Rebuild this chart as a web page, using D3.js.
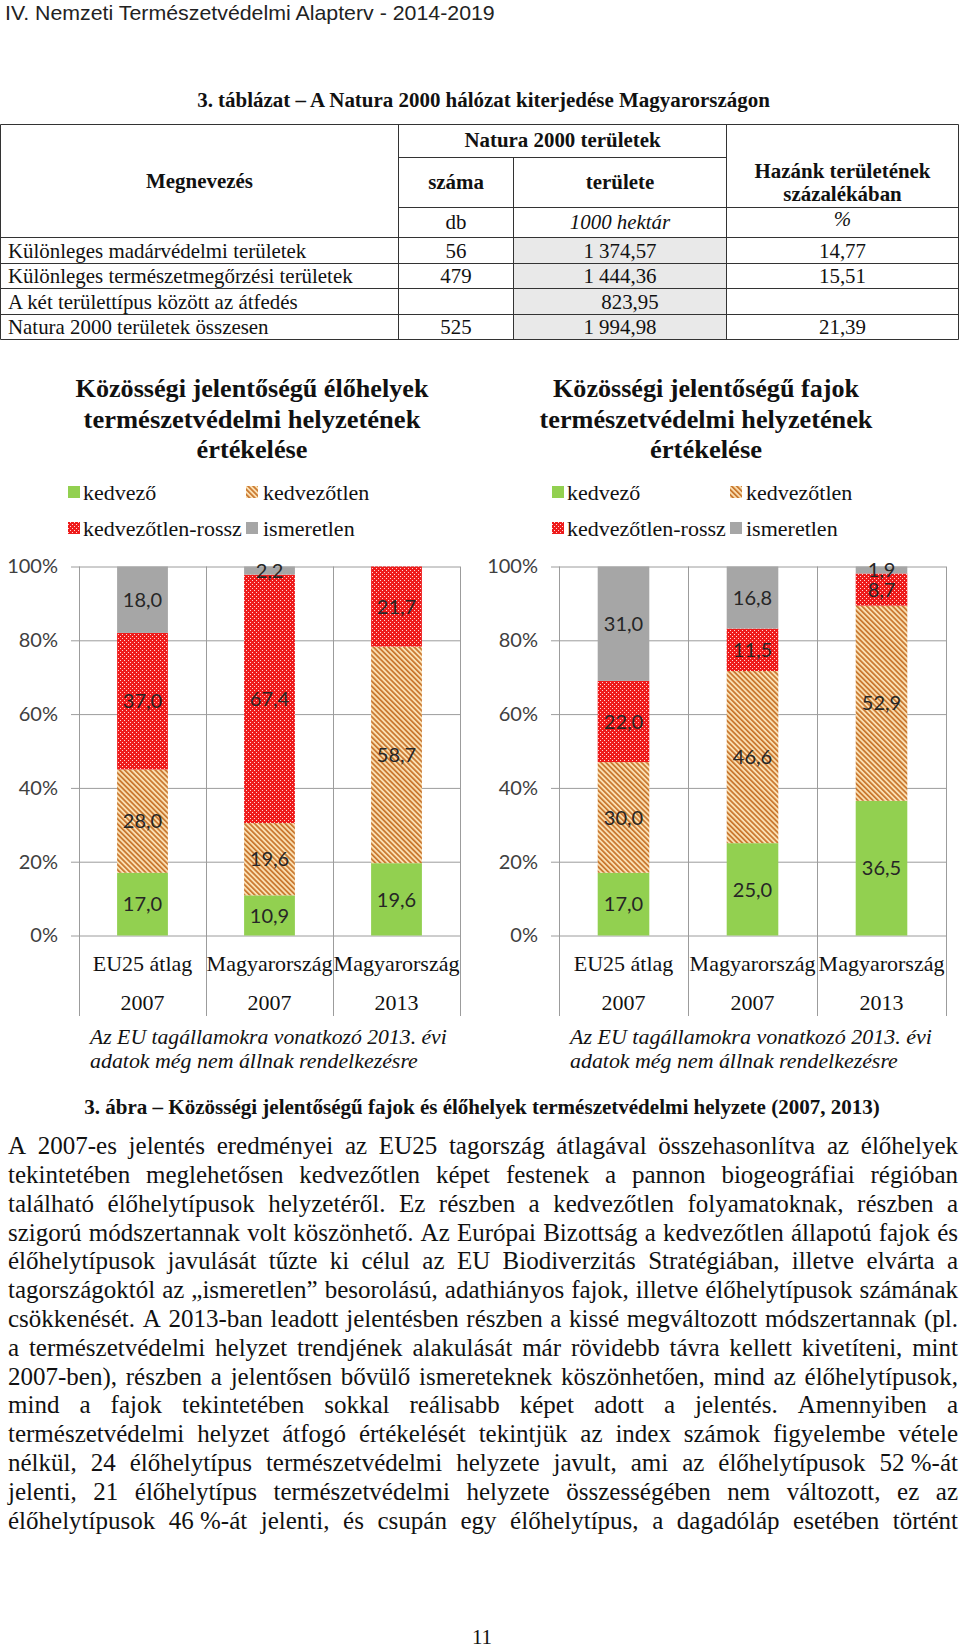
<!DOCTYPE html>
<html><head><meta charset="utf-8">
<script src="https://cdn.jsdelivr.net/npm/d3@7"></script>
<style>body{margin:0;background:#fff}svg{display:block}</style>
</head><body><svg id="page" width="960" height="1651"></svg>
<script>
// ---------------- DATA ----------------
const pageHeader = "IV. Nemzeti Természetvédelmi Alapterv - 2014-2019";
const tableTitle = "3. táblázat – A Natura 2000 hálózat kiterjedése Magyarországon";
const tableRowNames = ["Különleges madárvédelmi területek","Különleges természetmegőrzési területek","A két területtípus között az átfedés","Natura 2000 területek összesen"];
const tableCounts = ["56","479","","525"];
const tableAreas = ["1 374,57","1 444,36","823,95","1 994,98"];
const tablePercents = ["14,77","15,51","","21,39"];

const seriesNames = ["kedvező","kedvezőtlen","kedvezőtlen-rossz","ismeretlen"];
const categoryNames = ["EU25 átlag","Magyarország","Magyarország"];
const categoryYears = ["2007","2007","2013"];
const yTickValues = [0,20,40,60,80,100];

// habitats (élőhelyek)
const habKedvezo     = [17.0, 10.9, 19.6];
const habKedvezotlen = [28.0, 19.6, 58.7];
const habRossz       = [37.0, 67.4, 21.7];
const habIsmeretlen  = [18.0,  2.2,  0.0];
// species (fajok)
const spKedvezo      = [17.0, 25.0, 36.5];
const spKedvezotlen  = [30.0, 46.6, 52.9];
const spRossz        = [22.0, 11.5,  8.7];
const spIsmeretlen   = [31.0, 16.8,  1.9];

const habTitle = ["Közösségi jelentőségű élőhelyek","természetvédelmi helyzetének","értékelése"];
const spTitle  = ["Közösségi jelentőségű fajok","természetvédelmi helyzetének","értékelése"];
const footnoteLines = ["Az EU tagállamokra vonatkozó 2013. évi","adatok még nem állnak rendelkezésre"];
const figureCaption = "3. ábra – Közösségi jelentőségű fajok és élőhelyek természetvédelmi helyzete (2007, 2013)";
const bodyLines = [
"A 2007-es jelentés eredményei az EU25 tagország átlagával összehasonlítva az élőhelyek",
"tekintetében meglehetősen kedvezőtlen képet festenek a pannon biogeográfiai régióban",
"található élőhelytípusok helyzetéről. Ez részben a kedvezőtlen folyamatoknak, részben a",
"szigorú módszertannak volt köszönhető. Az Európai Bizottság a kedvezőtlen állapotú fajok és",
"élőhelytípusok javulását tűzte ki célul az EU Biodiverzitás Stratégiában, illetve elvárta a",
"tagországoktól az „ismeretlen” besorolású, adathiányos fajok, illetve élőhelytípusok számának",
"csökkenését. A 2013-ban leadott jelentésben részben a kissé megváltozott módszertannak (pl.",
"a természetvédelmi helyzet trendjének alakulását már rövidebb távra kellett kivetíteni, mint",
"2007-ben), részben a jelentősen bővülő ismereteknek köszönhetően, mind az élőhelytípusok,",
"mind a fajok tekintetében sokkal reálisabb képet adott a jelentés. Amennyiben a",
"természetvédelmi helyzet átfogó értékelését tekintjük az index számok figyelembe vétele",
"nélkül, 24 élőhelytípus természetvédelmi helyzete javult, ami az élőhelytípusok 52\u00a0%-át",
"jelenti, 21 élőhelytípus természetvédelmi helyzete összességében nem változott, ez az",
"élőhelytípusok 46\u00a0%-át jelenti, és csupán egy élőhelytípus, a dagadóláp esetében történt"
];
const pageNumber = "11";

// ---------------- HELPERS ----------------
const SERIF = "'Liberation Serif','Times New Roman',serif";
const SANS = "Lato,'Liberation Sans',sans-serif";
const svg = d3.select("#page");

function styleText(t, o){
  t.attr("font-family", o.family || SERIF)
   .attr("font-size", o.size || 20)
   .attr("font-weight", o.weight || "normal")
   .attr("font-style", o.style || "normal")
   .attr("fill", o.fill || "#111");
  return t;
}
function measure(str, o){
  const t = styleText(svg.append("text"), o).text(str);
  const w = t.node().getComputedTextLength();
  t.remove();
  return w;
}
function placeText(parent, o){
  const g = parent.append("g");
  const t = styleText(g.append("text"), o)
    .attr("text-anchor", o.anchor || "start")
    .attr("dy", o.dy || "0.35em")
    .text(o.text);
  let k = o.k || 1;
  if (o.width) k = o.width / t.node().getComputedTextLength();
  g.attr("transform", `translate(${o.x},${o.y}) scale(${k},1)`);
  return k;
}

// ---------------- PATTERNS ----------------
const defs = svg.append("defs");
const hatch = defs.append("pattern").attr("id","hatch").attr("patternUnits","userSpaceOnUse")
  .attr("width",3.6).attr("height",3.6).attr("patternTransform","rotate(-45)");
hatch.append("rect").attr("width",3.6).attr("height",3.6).attr("fill","#fadfb2");
hatch.append("rect").attr("width",1.7).attr("height",3.6).attr("fill","#c8752c");
const dots = defs.append("pattern").attr("id","dots").attr("patternUnits","userSpaceOnUse")
  .attr("width",4).attr("height",4);
dots.append("rect").attr("width",4).attr("height",4).attr("fill","#ee1b1b");
dots.append("rect").attr("x",0).attr("y",0).attr("width",1).attr("height",1).attr("fill","#ffd6d6");
dots.append("rect").attr("x",2).attr("y",2).attr("width",1).attr("height",1).attr("fill","#ffd6d6");
const fills = {"kedvező":"#92d050","kedvezőtlen":"url(#hatch)","kedvezőtlen-rossz":"url(#dots)","ismeretlen":"#a6a6a6"};

// ---------------- HEADER ----------------
placeText(svg,{x:5,y:13,text:pageHeader,width:490,family:"'Liberation Sans Narrow','Liberation Sans',sans-serif",size:20,fill:"#222"});
placeText(svg,{x:483.5,y:100,anchor:"middle",text:tableTitle,width:573,weight:"bold",size:21});

// ---------------- TABLE ----------------
const T = {x0:0.5, c1:398.5, c2:513.5, c3:726.5, x1:958.5, top:124.5, h1:157.5, h2:207.5, h3:237.5, rows:[263.5,288.5,314.5], bot:339.5};
const tg = svg.append("g");
tg.append("rect").attr("x",T.c2).attr("y",T.h3).attr("width",T.c3-T.c2).attr("height",T.bot-T.h3).attr("fill","#e9e9e9");
const hl = [[T.x0,T.x1,T.top],[T.c1,T.c3,T.h1],[T.c1,T.x1,T.h2],[T.x0,T.x1,T.h3]].concat(T.rows.map(r=>[T.x0,T.x1,r])).concat([[T.x0,T.x1,T.bot]]);
const vl = [[T.x0,T.top,T.bot],[T.c1,T.top,T.bot],[T.c2,T.h1,T.bot],[T.c3,T.top,T.bot],[T.x1,T.top,T.bot]];
tg.selectAll("line.h").data(hl).join("line").attr("x1",d=>d[0]).attr("x2",d=>d[1]).attr("y1",d=>d[2]).attr("y2",d=>d[2]).attr("stroke","#333");
tg.selectAll("line.v").data(vl).join("line").attr("x1",d=>d[0]).attr("x2",d=>d[0]).attr("y1",d=>d[1]).attr("y2",d=>d[2]).attr("stroke","#333");

const tSize = 21;
const tk = 345 / measure(tableRowNames[1], {size:tSize});
const cx2 = (T.c1+T.c2)/2, cx3 = (T.c2+T.c3)/2, cx4 = (T.c3+T.x1)/2;
placeText(tg,{x:(T.c1+T.c3)/2,y:140,anchor:"middle",text:"Natura 2000 területek",weight:"bold",size:tSize,k:tk});
placeText(tg,{x:(T.x0+T.c1)/2,y:181,anchor:"middle",text:"Megnevezés",weight:"bold",size:tSize,k:tk});
placeText(tg,{x:cx2,y:182,anchor:"middle",text:"száma",weight:"bold",size:tSize,k:tk});
placeText(tg,{x:cx3,y:182,anchor:"middle",text:"területe",weight:"bold",size:tSize,k:tk});
placeText(tg,{x:cx4,y:170.5,anchor:"middle",text:"Hazánk területének",weight:"bold",size:tSize,k:tk});
placeText(tg,{x:cx4,y:193.5,anchor:"middle",text:"százalékában",weight:"bold",size:tSize,k:tk});
placeText(tg,{x:cx2,y:222,anchor:"middle",text:"db",size:tSize,k:tk});
placeText(tg,{x:cx3,y:222,anchor:"middle",text:"1000 hektár",style:"italic",size:tSize,k:tk});
placeText(tg,{x:cx4,y:219,anchor:"middle",text:"%",style:"italic",size:tSize,k:tk});
const rowY = [250.5,275.8,301.2,326.5];
tableRowNames.forEach((n,i)=>{
  placeText(tg,{x:8,y:rowY[i],text:n,size:tSize,k:tk});
  if (tableCounts[i]) placeText(tg,{x:cx2,y:rowY[i],anchor:"middle",text:tableCounts[i],size:tSize,k:tk});
  placeText(tg,{x:cx3 + (i===2?10:0),y:rowY[i],anchor:"middle",text:tableAreas[i],size:tSize,k:tk});
  if (tablePercents[i]) placeText(tg,{x:cx4,y:rowY[i],anchor:"middle",text:tablePercents[i],size:tSize,k:tk});
});

// ---------------- CHARTS ----------------
const fmt = v => d3.format(".1f")(v).replace(".",",");
function drawChart(cfg){
  const g = svg.append("g");
  const yTop = 566.5, yBot = 935.5, vBottom = 1016;
  const rows = categoryNames.map((c,i)=>{
    const r = {i};
    seriesNames.forEach((s,j)=> r[s] = cfg.values[j][i]);
    return r;
  });
  const stack = d3.stack().keys(seriesNames).offset(d3.stackOffsetExpand)(rows);
  const x = d3.scaleBand().domain(d3.range(categoryNames.length)).range([cfg.px0,cfg.px1]).paddingInner(0.6).paddingOuter(0.3);
  const y = d3.scaleLinear().domain([0,1]).range([yBot,yTop]);

  // title
  cfg.title.forEach((line,i)=> placeText(g,{x:cfg.titleCx,y:[388,419,449][i],anchor:"middle",text:line,weight:"bold",size:26,width:cfg.titleWidths[i],fill:"#111"}));
  // legend
  cfg.legend.forEach(l=>{
    g.append("rect").attr("x",l.sx).attr("y",l.y-6).attr("width",12).attr("height",12).attr("fill",fills[l.key]);
    placeText(g,{x:l.tx,y:l.y,text:l.key,size:22,fill:"#111"});
  });

  // horizontal gridlines + y labels via axis
  const axis = d3.axisLeft(y).tickValues(yTickValues.map(v=>v/100))
    .tickSizeInner(-(cfg.px1-cfg.px0+8)).tickSizeOuter(0).tickPadding(13)
    .tickFormat(d=>Math.round(d*100)+"%");
  const ag = g.append("g").attr("transform",`translate(${cfg.px0-8},0)`).call(axis);
  ag.select(".domain").remove();
  ag.selectAll(".tick line").attr("stroke","#9c9c9c");
  ag.selectAll(".tick text").attr("font-family",SANS).attr("font-size",20).attr("fill","#404040");

  // vertical category lines
  const vx = d3.range(categoryNames.length+1).map(i=> cfg.px0 + i*x.step());
  g.selectAll("line.vv").data(vx).join("line").attr("class","vv")
    .attr("x1",d=>Math.round(d)+0.5).attr("x2",d=>Math.round(d)+0.5)
    .attr("y1",yTop).attr("y2",vBottom).attr("stroke","#9c9c9c");

  // bars
  const layers = g.selectAll("g.layer").data(stack).join("g").attr("class","layer").attr("fill",d=>fills[d.key]);
  layers.selectAll("rect").data(d=>d).join("rect")
    .attr("x",(d,i)=>x(i)).attr("width",x.bandwidth())
    .attr("y",d=>y(d[1])).attr("height",d=>Math.max(0,y(d[0])-y(d[1])));

  // data labels
  stack.forEach((layer,j)=>{
    layer.forEach((d,i)=>{
      const v = cfg.values[j][i];
      if (!(v>0)) return;
      g.append("text").attr("x",x(i)+x.bandwidth()/2).attr("y",(y(d[0])+y(d[1]))/2)
        .attr("dy","0.36em").attr("text-anchor","middle")
        .attr("font-family",SANS).attr("font-size",20).attr("fill","#262626").text(fmt(v));
    });
  });

  // category labels
  categoryNames.forEach((c,i)=>{
    const cx = x(i)+x.bandwidth()/2;
    placeText(g,{x:cx,y:963,anchor:"middle",text:c,size:22,fill:"#111"});
    placeText(g,{x:cx,y:1002,anchor:"middle",text:categoryYears[i],size:22,fill:"#111"});
  });
  // footnote
  footnoteLines.forEach((f,i)=> placeText(g,{x:cfg.footX,y:[1036,1060][i],text:f,style:"italic",size:22,width:cfg.footWidths[i],fill:"#111"}));
}

drawChart({px0:79, px1:460, titleCx:252, title:habTitle, titleWidths:[353,337,111],
  values:[habKedvezo,habKedvezotlen,habRossz,habIsmeretlen],
  legend:[{key:"kedvező",sx:68,tx:83,y:492},{key:"kedvezőtlen",sx:246,tx:263,y:492},
          {key:"kedvezőtlen-rossz",sx:68,tx:83,y:528},{key:"ismeretlen",sx:246,tx:263,y:528}],
  footX:90, footWidths:[357,328]});
drawChart({px0:559, px1:946, titleCx:706, title:spTitle, titleWidths:[306,333,112],
  values:[spKedvezo,spKedvezotlen,spRossz,spIsmeretlen],
  legend:[{key:"kedvező",sx:552,tx:567,y:492},{key:"kedvezőtlen",sx:730,tx:746,y:492},
          {key:"kedvezőtlen-rossz",sx:552,tx:567,y:528},{key:"ismeretlen",sx:730,tx:746,y:528}],
  footX:570, footWidths:[362,328]});

// ---------------- CAPTION ----------------
placeText(svg,{x:482,y:1107,anchor:"middle",text:figureCaption,weight:"bold",size:21,width:796});

// ---------------- BODY (justified) ----------------
const bodyFont = {size:25};
const bL = 8, bR = 958, bTop = 1145.3, bLH = 28.82;
const spaceW = measure("a a",bodyFont) - measure("aa",bodyFont);
const lineWords = bodyLines.map(l=> l.split(" ").map(w=>({w, len: measure(w,bodyFont)})));
const kBody = Math.min(1, d3.min(lineWords, ws => (bR-bL) / (d3.sum(ws,d=>d.len) + (ws.length-1)*spaceW)));
const bodyG = svg.append("g");
lineWords.forEach((ws,li)=>{
  const avail = (bR-bL)/kBody;
  const gap = (avail - d3.sum(ws,d=>d.len)) / (ws.length-1);
  const lg = bodyG.append("g").attr("transform",`translate(${bL},${bTop+li*bLH}) scale(${kBody},1)`);
  const t = styleText(lg.append("text"),bodyFont).attr("dy","0.35em");
  let cx = 0;
  ws.forEach(d=>{ t.append("tspan").attr("x",cx).text(d.w); cx += d.len + gap; });
});

// ---------------- PAGE NUMBER ----------------
placeText(svg,{x:482,y:1637,anchor:"middle",text:pageNumber,size:21,fill:"#111"});
</script>
</body></html>
